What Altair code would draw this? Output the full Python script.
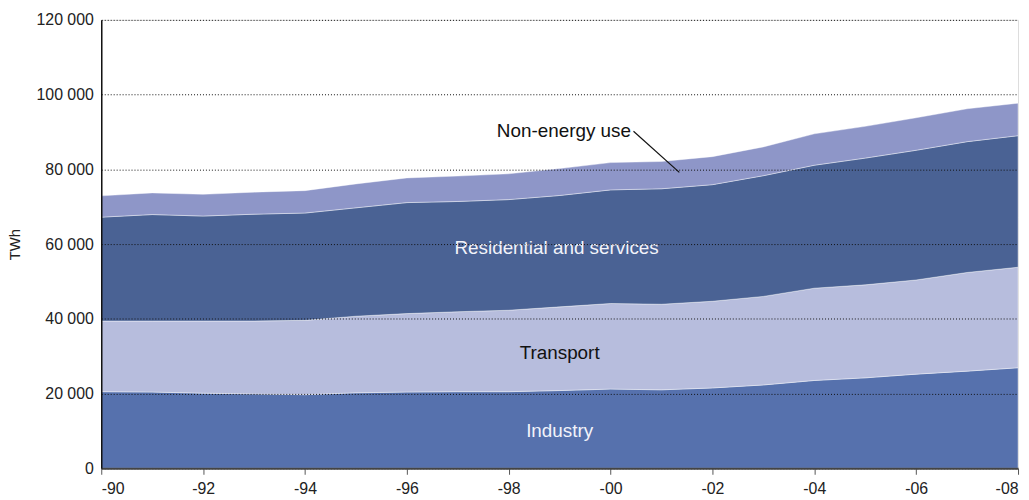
import altair as alt
import pandas as pd

years = list(range(1990, 2009))
series = ["Industry", "Transport", "Residential and services", "Non-energy use"]
colors = ["#5671AD", "#B7BDDD", "#4A6294", "#8E96C8"]

industry = [20500, 20400, 20100, 19900, 19700, 20200, 20400, 20500, 20500, 20800,
            21200, 21000, 21500, 22300, 23500, 24200, 25200, 26000, 26900]
transport = [18900, 19000, 19300, 19500, 19900, 20500, 21000, 21400, 21800, 22400,
             22900, 22900, 23200, 23700, 24700, 24900, 25200, 26400, 26900]
residential = [27800, 28500, 28100, 28600, 28700, 29000, 29700, 29500, 29600, 29800,
               30400, 30900, 31200, 32300, 32900, 33900, 34700, 35000, 35200]
non_energy = [5700, 5800, 5800, 5900, 6000, 6400, 6600, 6800, 6900, 7200,
              7300, 7300, 7500, 7700, 8400, 8500, 8700, 8800, 8700]

y_ticks = [0, 20000, 40000, 60000, 80000, 100000, 120000]
x_ticks = list(range(1990, 2009, 2))

# Labels inside the chart (data coordinates)
label_text = ["Residential and services", "Transport", "Industry"]
label_x = [1998.94, 1999.0, 1999.0]
label_y = [58900, 30800, 10100]
label_color = ["#F2F3FA", "#111111", "#F2F3FA"]

note_text = ["Non-energy use"]
note_x = [2000.4]
note_y = [90300]
leader_x = [2000.45]
leader_y = [90200]
leader_x2 = [2001.35]
leader_y2 = [79200]

rows = []
for i, yr in enumerate(years):
    for k, (name, vals) in enumerate(zip(series, [industry, transport, residential, non_energy])):
        rows.append({"year": yr, "series": name, "value": vals[i], "order": k})
df = pd.DataFrame(rows)

x_scale = alt.Scale(domain=[1990, 2008], nice=False, zero=False)
y_scale = alt.Scale(domain=[0, 120000], nice=False)

area = alt.Chart(df).mark_area(stroke="white", strokeWidth=0.5, strokeOpacity=0.8,
                               interpolate="linear").encode(
    x=alt.X("year:Q", scale=x_scale,
            axis=alt.Axis(values=x_ticks, title=None, grid=False, labelFlush=True,
                          labelExpr="'-' + substring(toString(datum.value), 2, 4)",
                          labelFont="Liberation Sans", labelFontSize=16, labelColor="#222222",
                          labelPadding=6, tickSize=6, tickColor="#555555",
                          domainColor="#444444", domainWidth=2, zindex=1)),
    y=alt.Y("value:Q", stack="zero", scale=y_scale,
            axis=alt.Axis(values=y_ticks, title="TWh", grid=True, gridColor="#111111",
                          gridDash=[1, 2], gridWidth=1, ticks=False,
                          labelExpr="replace(format(datum.value, ','), ',', ' ')",
                          labelFont="Liberation Sans", labelFontSize=16, labelColor="#222222",
                          labelPadding=8, titleFont="Liberation Sans", titleFontSize=15,
                          titleFontWeight="normal", titleColor="#222222", titlePadding=14,
                          domainColor="#111111", domainWidth=1.5, zindex=1)),
    color=alt.Color("series:N", scale=alt.Scale(domain=series, range=colors), legend=None),
    order=alt.Order("order:Q", sort="ascending"),
)

labels_df = pd.DataFrame({"text": label_text, "x": label_x, "y": label_y, "c": label_color})
labels = alt.Chart(labels_df).mark_text(font="Liberation Sans", fontSize=19, align="center",
                                        baseline="middle").encode(
    x=alt.X("x:Q", scale=x_scale),
    y=alt.Y("y:Q", scale=y_scale),
    text="text:N",
    color=alt.Color("c:N", scale=None),
)

note_df = pd.DataFrame({"text": note_text, "x": note_x, "y": note_y})
note = alt.Chart(note_df).mark_text(font="Liberation Sans", fontSize=19, align="right",
                                    baseline="middle", color="#111111").encode(
    x=alt.X("x:Q", scale=x_scale),
    y=alt.Y("y:Q", scale=y_scale),
    text="text:N",
)

leader_df = pd.DataFrame({"x": leader_x, "y": leader_y, "x2": leader_x2, "y2": leader_y2})
leader = alt.Chart(leader_df).mark_rule(color="#111111", strokeWidth=1.2).encode(
    x=alt.X("x:Q", scale=x_scale),
    y=alt.Y("y:Q", scale=y_scale),
    x2="x2:Q",
    y2="y2:Q",
)

chart = alt.layer(area, labels, note, leader).properties(
    width=924, height=452,
    padding={"left": 94, "top": 10, "right": 3, "bottom": 30},
    autosize=alt.AutoSizeParams(type="none"),
).configure_view(stroke=None).configure(background="white")

chart.save("out.html", embed_options={"renderer": "svg", "actions": False})
